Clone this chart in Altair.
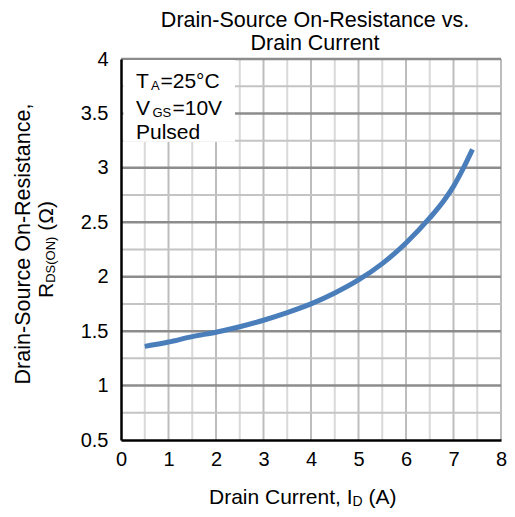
import altair as alt
import pandas as pd

# Curve data
drain_current = [0.5, 1.0, 1.5, 2.0, 2.5, 3.0, 3.5, 4.0, 4.5, 5.0, 5.5, 6.0, 6.5, 6.8, 7.0, 7.2, 7.4]
rds_on = [1.36, 1.40, 1.45, 1.49, 1.54, 1.60, 1.67, 1.75, 1.85, 1.97, 2.12, 2.31, 2.54, 2.70, 2.83, 2.99, 3.17]

x_ticks = [0, 1, 2, 3, 4, 5, 6, 7, 8]
y_ticks = [0.5, 1, 1.5, 2, 2.5, 3, 3.5, 4]
x_minor = [0.5, 1.5, 2.5, 3.5, 4.5, 5.5, 6.5, 7.5]
x_major = [1, 2, 3, 4, 5, 6, 7, 8]
y_minor = [0.75, 1.25, 1.75, 2.25, 2.75, 3.25, 3.75]
y_major = [1, 1.5, 2, 2.5, 3, 3.5, 4]

FONT = "Liberation Sans"
W, H = 380, 381

xs = alt.Scale(domain=[0, 8], nice=False, zero=False)
ys = alt.Scale(domain=[0.5, 4], nice=False, zero=False)

curve = pd.DataFrame({"I": drain_current, "R": rds_on})

x_axis = alt.Axis(values=x_ticks, title=None, grid=False, ticks=False, tickSize=0, labelFlush=False,
                  labelFont=FONT, labelFontSize=20, labelColor="black", labelPadding=9,
                  domainColor="black", domainWidth=2.5, zindex=1)
y_axis = alt.Axis(values=y_ticks, title=None, grid=False, ticks=False, tickSize=0, format="~g",
                  labelFlush=False,
                  labelFont=FONT, labelFontSize=20, labelColor="black", labelPadding=13,
                  domainColor="black", domainWidth=2.5, zindex=1)

def vrules(vals, color, width):
    return alt.Chart(pd.DataFrame({"v": vals})).mark_rule(color=color, strokeWidth=width).encode(
        x=alt.X("v:Q", scale=xs, axis=x_axis, title=None))

def hrules(vals, color, width):
    return alt.Chart(pd.DataFrame({"v": vals})).mark_rule(color=color, strokeWidth=width).encode(
        y=alt.Y("v:Q", scale=ys, axis=y_axis, title=None))

def txt(s, x, y, size, angle=0, align="left"):
    return alt.Chart(pd.DataFrame({"t": [s]})).mark_text(
        font=FONT, fontSize=size, color="black", align=align, baseline="alphabetic",
        angle=angle, x=x, y=y).encode(text="t:N")

grid = [
    vrules(x_minor, "#d9d9d9", 2),
    vrules(x_major, "#bdbdbd", 2),
    hrules(y_minor, "#c4c4c4", 2),
    hrules(y_major, "#8c8c8c", 2.5),
]

box = alt.Chart(pd.DataFrame({"a": [0]})).mark_rect(fill="white").encode(
    x=alt.datum(0.05, scale=xs, axis=x_axis), x2=alt.datum(2.4),
    y=alt.datum(3.99, scale=ys, axis=y_axis), y2=alt.datum(3.24))

line = alt.Chart(curve).mark_line(color="#4a7ebb", strokeWidth=5, interpolate="monotone").encode(
    x=alt.X("I:Q", scale=xs, axis=x_axis, title=None),
    y=alt.Y("R:Q", scale=ys, axis=y_axis, title=None),
)

texts = [
    # chart title
    txt("Drain-Source On-Resistance vs.", 194, -32, 21.5, align="center"),
    txt("Drain Current", 194, -9, 21.5, align="center"),
    # legend
    txt("T", 15, 29, 21), txt("A", 30, 30.5, 13), txt("=25°C", 39.5, 29, 21),
    txt("V", 15, 56, 21), txt("GS", 31.5, 57.5, 13), txt("=10V", 51.5, 56, 21),
    txt("Pulsed", 15, 80, 21),
    # x title
    txt("Drain Current, I", 88, 445, 21), txt("D", 231.5, 447, 14), txt("(A)", 247.5, 445, 21),
    # y title
    txt("Drain-Source On-Resistance,", -91, 185, 21.5, angle=270, align="center"),
    txt("R", -68, 239, 21, angle=270), txt("DS(ON)", -66, 223.8, 13, angle=270),
    txt("(Ω)", -68, 171.8, 21, angle=270),
]

chart = alt.layer(*grid, box, line, *texts).properties(
    width=W, height=H,
    autosize=alt.AutoSizeParams(type="none"),
    padding={"left": 113, "top": 51, "right": 6, "bottom": 69},
).configure_view(stroke=None).configure(background="white")

chart.save("out.html", embed_options={"renderer": "svg", "actions": False})
